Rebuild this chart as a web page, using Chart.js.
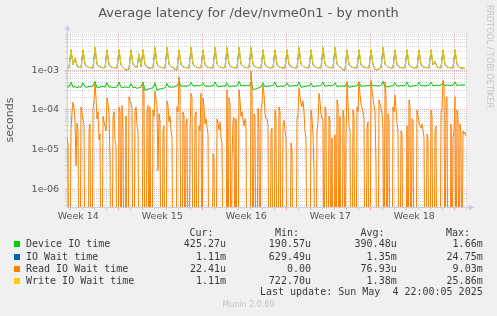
<!DOCTYPE html>
<html>
<head>
<meta charset="utf-8">
<script src="https://cdn.jsdelivr.net/npm/chart.js@4.4.1/dist/chart.umd.min.js"></script>
<style>
html,body{margin:0;padding:0;background:#f0f0f0;}
#wrap{position:relative;width:497px;height:316px;overflow:hidden;background:#f0f0f0;}
#wrap canvas{position:absolute;left:0;top:0;}
.lg{position:absolute;white-space:pre;font-family:"DejaVu Sans Mono",monospace;font-size:10px;line-height:12px;color:#3a3a3a;}
.sq{position:absolute;width:6px;height:6px;}
#munin{position:absolute;left:0;width:497px;top:299px;text-align:center;font-family:"DejaVu Sans",sans-serif;font-size:8px;line-height:12px;color:#c4c4c4;}
#rrd{position:absolute;left:484px;top:5px;writing-mode:vertical-rl;font-family:"DejaVu Sans",sans-serif;font-size:8px;line-height:10px;color:#c4c4c4;}
</style>
</head>
<body>
<div id="wrap">
<canvas id="grafico" width="497" height="316"></canvas>
<div id="rrd">RRDTOOL / TOBI OETIKER</div>
<div id="munin">Munin 2.0.69</div>
</div>
<script>
// device/io/write series: one sample every 4 hours; read series: every 2 hours
var sampleHours = 4;
var readSampleHours = 2;

// Device IO time, milliseconds
var deviceIoMs = [0.37, 0.38,
  0.50, 0.37, 0.39, 0.36, 0.38, 0.37,
  0.48, 0.38, 0.37, 0.39, 0.38, 0.40,
  0.52, 0.36, 0.37, 0.38, 0.39, 0.37,
  0.48, 0.37, 0.38, 0.36, 0.37, 0.38,
  0.50, 0.37, 0.36, 0.38, 0.37, 0.36,
  0.46, 0.36, 0.37, 0.35, 0.36, 0.37,
  0.50, 0.31, 0.32, 0.34, 0.35, 0.36,
  0.48, 0.31, 0.33, 0.34, 0.35, 0.36,
  0.46, 0.37, 0.38, 0.37, 0.39, 0.40,
  0.52, 0.39, 0.40, 0.39, 0.40, 0.40,
  0.49, 0.40, 0.40, 0.41, 0.40, 0.41,
  0.48, 0.39, 0.40, 0.39, 0.40, 0.40,
  0.50, 0.40, 0.38, 0.39, 0.40, 0.39,
  0.48, 0.38, 0.39, 0.40, 0.39, 0.40,
  0.52, 0.40, 0.41, 0.40, 0.41, 0.40,
  0.50, 0.33, 0.33, 0.35, 0.36, 0.38,
  0.48, 0.38, 0.39, 0.40, 0.40, 0.41,
  0.50, 0.38, 0.39, 0.40, 0.39, 0.40,
  0.48, 0.39, 0.40, 0.40, 0.41, 0.40,
  0.50, 0.37, 0.38, 0.39, 0.40, 0.40,
  0.47, 0.38, 0.39, 0.40, 0.40, 0.41,
  0.50, 0.39, 0.40, 0.41, 0.40, 0.41,
  0.48, 0.38, 0.40, 0.39, 0.40, 0.39,
  0.46, 0.37, 0.38, 0.39, 0.40, 0.40,
  0.50, 0.39, 0.40, 0.40, 0.41, 0.40,
  0.47, 0.40, 0.41, 0.40, 0.40, 0.41,
  0.52, 0.37, 0.38, 0.39, 0.40, 0.40,
  0.48, 0.39, 0.40, 0.41, 0.40, 0.41,
  0.50, 0.38, 0.39, 0.40, 0.41, 0.41,
  0.49, 0.40, 0.41, 0.40, 0.41, 0.42,
  0.50, 0.40, 0.41, 0.42, 0.41, 0.42,
  0.48, 0.41, 0.42, 0.42, 0.41, 0.42,
  0.50, 0.41, 0.42, 0.42, 0.43, 0.425];

// IO Wait time, milliseconds (sits right under the write wait line)
var ioWaitMs = [1.15, 1.14,
  3.2, 1.38, 2.0, 1.28, 1.16, 1.14,
  3.2, 1.36, 1.24, 1.16, 1.14, 1.13,
  3.7, 1.38, 1.26, 1.17, 1.14, 1.15,
  3.2, 1.34, 1.21, 1.15, 1.14, 1.13,
  3.2, 1.33, 1.19, 1.03, 1.01, 1.06,
  3.2, 1.38, 1.21, 1.16, 2.5, 1.19,
  3.2, 1.36, 1.2, 1.12, 1.14, 1.14,
  3.7, 1.38, 1.24, 1.16, 1.14, 1.13,
  3.7, 1.4, 1.24, 1.15, 1.04, 1.01,
  3.2, 1.38, 1.21, 1.15, 1.14, 1.13,
  3.7, 1.38, 1.24, 1.16, 1.14, 1.14,
  3.2, 1.36, 1.21, 1.15, 1.14, 1.13,
  3.7, 1.4, 1.25, 1.16, 1.14, 1.15,
  3.7, 1.38, 1.23, 1.15, 1.14, 1.13,
  3.7, 1.4, 1.24, 1.16, 1.15, 1.14,
  3.7, 1.38, 1.23, 1.15, 1.14, 1.13,
  3.2, 1.36, 1.21, 1.15, 1.14, 1.14,
  3.2, 1.34, 1.21, 1.15, 1.13, 1.13,
  3.2, 1.36, 1.22, 1.16, 1.14, 1.13,
  3.7, 1.4, 1.24, 1.16, 1.14, 1.14,
  3.2, 1.36, 1.21, 1.15, 1.14, 1.13,
  3.7, 1.38, 1.24, 1.16, 1.14, 1.14,
  3.7, 1.4, 1.23, 1.15, 1.02, 1.01,
  3.2, 1.36, 1.21, 1.15, 1.14, 1.13,
  3.2, 1.34, 1.21, 1.16, 1.14, 1.14,
  3.2, 1.36, 1.04, 1.01, 1.09, 1.13,
  3.7, 1.4, 1.24, 1.16, 1.14, 1.13,
  3.2, 1.36, 1.21, 1.15, 1.14, 1.14,
  3.2, 1.34, 1.21, 1.15, 1.14, 1.13,
  3.2, 1.36, 1.22, 1.16, 1.14, 1.14,
  3.2, 1.34, 1.65, 1.21, 1.14, 1.13,
  3.2, 1.36, 1.21, 1.15, 1.14, 1.13,
  3.2, 1.38, 1.19, 1.12, 1.11, 1.11];

// Read IO Wait time, microseconds, 12 samples a day (0 falls off the bottom of the log axis)
var readWaitUs = [20, 14, 0, 0,
  32, 90, 160, 110, 56, 4, 47, 30, 0, 0, 120, 85,
  60, 40, 0, 0, 0, 0, 30, 45, 0, 0, 100, 180,
  470, 200, 60, 90, 18, 25, 0, 0, 70, 50, 40, 30,
  200, 150, 80, 6, 0, 0, 60, 90, 18, 12, 0, 0,
  120, 90, 0, 130, 40, 0, 0, 70, 0, 0, 215, 170,
  150, 110, 0, 0, 90, 120, 40, 30, 0, 0, 0, 0,
  450, 260, 0, 0, 90, 130, 0, 120, 0, 0, 100, 70,
  300, 180, 120, 3, 80, 50, 0, 0, 30, 40, 0, 0,
  170, 130, 50, 70, 30, 20, 0, 0, 0, 0, 120, 90,
  680, 300, 0, 0, 90, 70, 0, 45, 60, 0, 0, 30,
  260, 200, 0, 0, 70, 90, 0, 0, 40, 30, 265, 0,
  200, 120, 45, 60, 38, 25, 0, 0, 0, 0, 8, 6,
  0, 0, 60, 45, 32, 50, 20, 15, 0, 0, 0, 0,
  320, 0, 200, 140, 0, 5, 50, 65, 0, 60, 0, 0,
  320, 180, 70, 90, 56, 40, 60, 45, 0, 0, 0, 0,
  950, 400, 0, 80, 70, 0, 0, 110, 30, 0, 100, 150,
  420, 250, 80, 60, 60, 40, 0, 0, 27, 35, 0, 0,
  100, 70, 0, 0, 120, 90, 0, 0, 40, 55, 30, 20,
  0, 0, 0, 0, 15, 10, 0, 0, 0, 0, 60, 80,
  350, 220, 150, 120, 170, 90, 28, 20, 0, 0, 0, 0,
  100, 60, 25, 3, 0, 0, 30, 50, 265, 160, 80, 60,
  55, 0, 120, 90, 0, 0, 70, 50, 0, 20, 0, 0,
  24, 0, 180, 130, 0, 70, 0, 0, 100, 60, 0, 25,
  510, 150, 40, 30, 0, 0, 100, 70, 0, 0, 120, 90,
  510, 250, 140, 110, 90, 60, 0, 0, 35, 50, 0, 0,
  560, 300, 200, 130, 90, 4, 0, 0, 180, 140, 110, 80,
  35, 0, 510, 240, 0, 80, 60, 0, 0, 0, 120, 90,
  240, 110, 45, 30, 0, 0, 30, 25, 0, 0, 0, 0,
  40, 0, 180, 120, 0, 60, 56, 0, 0, 0, 100, 70,
  50, 40, 35, 45, 32, 20, 0, 0, 25, 18, 0, 0,
  100, 70, 0, 0, 30, 40, 0, 0, 0, 0, 80, 110,
  560, 400, 0, 200, 215, 0, 0, 0, 45, 0, 20, 30,
  215, 0, 100, 60, 0, 45, 24, 0, 30, 25, 28, 22.4];

// Write IO Wait time, milliseconds
var writeWaitMs = [1.16, 1.15,
  3.3, 1.4, 2.1, 1.3, 1.17, 1.15,
  3.3, 1.38, 1.25, 1.17, 1.15, 1.14,
  3.8, 1.4, 1.28, 1.18, 1.15, 1.16,
  3.3, 1.36, 1.22, 1.16, 1.15, 1.14,
  3.3, 1.35, 1.2, 1.06, 1.04, 1.08,
  3.3, 1.4, 1.22, 1.17, 2.6, 1.2,
  3.3, 1.38, 1.22, 1.16, 1.15, 1.15,
  3.8, 1.4, 1.25, 1.17, 1.15, 1.14,
  3.8, 1.42, 1.25, 1.16, 1.06, 1.04,
  3.3, 1.4, 1.22, 1.16, 1.15, 1.14,
  3.8, 1.4, 1.25, 1.17, 1.15, 1.15,
  3.3, 1.38, 1.22, 1.16, 1.15, 1.14,
  3.8, 1.42, 1.26, 1.17, 1.15, 1.16,
  3.8, 1.4, 1.24, 1.16, 1.15, 1.14,
  3.8, 1.42, 1.25, 1.17, 1.16, 1.15,
  3.8, 1.4, 1.24, 1.16, 1.15, 1.14,
  3.3, 1.38, 1.22, 1.16, 1.15, 1.15,
  3.3, 1.36, 1.22, 1.16, 1.14, 1.14,
  3.3, 1.38, 1.23, 1.17, 1.15, 1.14,
  3.8, 1.42, 1.25, 1.17, 1.15, 1.15,
  3.3, 1.38, 1.22, 1.16, 1.15, 1.14,
  3.8, 1.4, 1.25, 1.17, 1.15, 1.15,
  3.8, 1.42, 1.24, 1.16, 1.05, 1.04,
  3.3, 1.38, 1.22, 1.16, 1.15, 1.14,
  3.3, 1.36, 1.22, 1.17, 1.15, 1.15,
  3.3, 1.38, 1.06, 1.04, 1.1, 1.14,
  3.8, 1.42, 1.25, 1.17, 1.15, 1.14,
  3.3, 1.38, 1.22, 1.16, 1.15, 1.15,
  3.3, 1.36, 1.22, 1.16, 1.15, 1.14,
  3.3, 1.38, 1.23, 1.17, 1.15, 1.15,
  3.3, 1.36, 1.7, 1.22, 1.15, 1.14,
  3.3, 1.38, 1.22, 1.16, 1.15, 1.14,
  3.3, 1.4, 1.2, 1.13, 1.12, 1.11];

var weekNames = ['Week 14', 'Week 15', 'Week 16', 'Week 17', 'Week 18'];

var legendNames = ['Device IO time', 'IO Wait time', 'Read IO Wait time', 'Write IO Wait time'];
var legendColors = ['#00cc00', '#0066b3', '#ff8000', '#ffcc00'];
var curText = ['425.27u', '1.11m', '22.41u', '1.11m'];
var minText = ['190.57u', '629.49u', '0.00', '722.70u'];
var avgText = ['390.48u', '1.35m', '76.93u', '1.38m'];
var maxText = ['1.66m', '24.75m', '9.03m', '25.86m'];
var lastUpdate = 'Last update: Sun May  4 22:00:05 2025';

// time axis: hours from the left edge
var spanHours = 800, firstDayLine = 6.6, firstWeekLabel = 22.6;
var yMin = 3.7e-7, yMax = 8.5e-3;
// a zero cannot sit on a log axis: it is drawn below the bottom edge, like rrdtool does
var abaixoDoEixo = 1e-9;

var corGrade = 'rgba(150,150,150,0.42)', corGradeMaior = 'rgba(235,90,90,0.5)', corEixo = '#c6cbf2';

function pontos(valores, fator, passo) {
    return valores.map(function (v, i) { return {x: i * passo, y: v > 0 ? v * fator : abaixoDoEixo}; });
}

var fundoArea = {
    id: 'fundoArea',
    beforeDraw: function (chart) {
        var a = chart.chartArea, c = chart.ctx;
        c.save();
        c.fillStyle = '#ffffff';
        c.fillRect(a.left, a.top, a.right - a.left, a.bottom - a.top);
        c.restore();
    },
    afterDraw: function (chart) {
        var a = chart.chartArea, c = chart.ctx;
        var x0 = Math.round(a.left) + 0.5, y0 = Math.round(a.bottom) + 0.5;
        c.save();
        c.strokeStyle = corEixo; c.fillStyle = corEixo; c.lineWidth = 1;
        c.beginPath(); c.moveTo(x0, a.top); c.lineTo(x0, a.top - 4); c.stroke();
        c.beginPath(); c.moveTo(x0 - 3, a.top - 3); c.lineTo(x0 + 3, a.top - 3); c.lineTo(x0, a.top - 8); c.closePath(); c.fill();
        c.beginPath(); c.moveTo(a.right, y0); c.lineTo(a.right + 3, y0); c.stroke();
        c.beginPath(); c.moveTo(a.right + 2, y0 - 3); c.lineTo(a.right + 2, y0 + 3); c.lineTo(a.right + 7, y0); c.closePath(); c.fill();
        c.restore();
    }
};

window.addEventListener('load', function () {
    var dados = {
        datasets: [
            {label: legendNames[0], data: pontos(deviceIoMs, 1e-3, sampleHours), borderColor: legendColors[0], order: 3},
            {label: legendNames[1], data: pontos(ioWaitMs, 1e-3, sampleHours), borderColor: legendColors[1], order: 2},
            {label: legendNames[2], data: pontos(readWaitUs, 1e-6, readSampleHours), borderColor: legendColors[2], order: 1},
            {label: legendNames[3], data: pontos(writeWaitMs, 1e-3, sampleHours), borderColor: legendColors[3], order: 0}
        ]
    };
    dados.datasets.forEach(function (d) {
        d.borderWidth = 1; d.pointRadius = 0; d.tension = 0; d.fill = false;
    });

    new Chart(document.getElementById('grafico'), {
        type: 'line',
        data: dados,
        plugins: [fundoArea],
        options: {
            responsive: false,
            animation: false,
            devicePixelRatio: 1,
            layout: {padding: {left: 0, right: 0, top: 0, bottom: 89}},
            plugins: {
                legend: {display: false},
                tooltip: {enabled: false},
                title: {
                    display: true,
                    text: 'Average latency for /dev/nvme0n1 - by month',
                    color: '#555',
                    font: {family: 'DejaVu Sans', size: 13, weight: 'normal', lineHeight: 1.2},
                    padding: {top: 6, bottom: 11.4}
                }
            },
            scales: {
                x: {
                    type: 'linear',
                    min: 0, max: spanHours, bounds: 'data',
                    afterFit: function (s) { s.height = 20; },
                    afterBuildTicks: function (s) {
                        var t = [];
                        for (var k = 0; firstDayLine + 24 * k < spanHours; k++) {
                            t.push({value: firstDayLine + 24 * k, kind: (k - 4) % 7 === 0 ? 'week' : 'day'});
                        }
                        weekNames.forEach(function (n, i) {
                            t.push({value: firstWeekLabel + 168 * i, kind: 'label', nome: n});
                        });
                        t.sort(function (a, b) { return a.value - b.value; });
                        s.ticks = t;
                    },
                    ticks: {
                        autoSkip: false, maxRotation: 0, padding: 1,
                        color: '#555', font: {family: 'DejaVu Sans', size: 9.5},
                        callback: function (v, i, ticks) { return ticks[i].nome || ''; }
                    },
                    grid: {
                        drawTicks: true, tickLength: 3,
                        color: function (ctx) {
                            if (!ctx.tick) return 'rgba(0,0,0,0)';
                            if (ctx.tick.kind === 'week') return corGradeMaior;
                            if (ctx.tick.kind === 'day') return corGrade;
                            return 'rgba(0,0,0,0)';
                        }
                    },
                    border: {display: true, color: corEixo, width: 1, dash: [1, 1]}
                },
                y: {
                    type: 'logarithmic',
                    min: yMin, max: yMax, bounds: 'data',
                    afterFit: function (s) { s.width = 67; },
                    afterBuildTicks: function (s) {
                        var t = [];
                        for (var e = -7; e <= -3; e++) {
                            for (var m = 1; m <= 9; m++) {
                                var v = m * Math.pow(10, e);
                                if (v > yMin && v < yMax) t.push({value: v, decada: m === 1, expo: e});
                            }
                        }
                        s.ticks = t;
                    },
                    ticks: {
                        autoSkip: false, padding: 6,
                        color: '#555', font: {family: 'DejaVu Sans', size: 9.5},
                        callback: function (v, i, ticks) {
                            var t = ticks[i];
                            if (!t.decada) return '';
                            return '1e-0' + (-t.expo);
                        }
                    },
                    grid: {
                        drawTicks: true, tickLength: 2,
                        color: function (ctx) {
                            if (!ctx.tick) return corGrade;
                            return ctx.tick.decada ? corGradeMaior : corGrade;
                        }
                    },
                    border: {display: true, color: corEixo, width: 1, dash: [1, 1]},
                    title: {
                        display: true, text: 'seconds', color: '#555',
                        font: {family: 'DejaVu Sans', size: 11}, padding: {top: 4, bottom: 0}
                    }
                },
                // empty strip on the right, keeps the title centred on the whole picture
                margemDireita: {
                    type: 'linear', position: 'right', display: true,
                    afterFit: function (s) { s.width = 30; },
                    grid: {display: false}, border: {display: false}, ticks: {display: false}
                }
            }
        }
    });

    // legend table, munin style
    var wrap = document.getElementById('wrap');
    function texto(str, x, yc, alinhar) {
        var d = document.createElement('div');
        d.className = 'lg';
        d.textContent = str;
        d.style.top = (yc - 6) + 'px';
        if (alinhar === 'right') d.style.right = (497 - x) + 'px'; else d.style.left = x + 'px';
        wrap.appendChild(d);
    }
    texto('Cur:', 213.5, 232.5, 'right');
    texto('Min:', 299, 232.5, 'right');
    texto('Avg:', 384.5, 232.5, 'right');
    texto('Max:', 470, 232.5, 'right');
    var linhas = [244.3, 256.5, 268.6, 280.7];
    legendNames.forEach(function (n, i) {
        var q = document.createElement('div');
        q.className = 'sq';
        q.style.left = '14px';
        q.style.top = (linhas[i] - 3) + 'px';
        q.style.background = legendColors[i];
        wrap.appendChild(q);
        texto(n, 26, linhas[i], 'left');
        texto(curText[i], 226, linhas[i], 'right');
        texto(minText[i], 311, linhas[i], 'right');
        texto(avgText[i], 396.7, linhas[i], 'right');
        texto(maxText[i], 482.7, linhas[i], 'right');
    });
    texto(lastUpdate, 482.7, 292.3, 'right');
});
</script>
</body>
</html>
